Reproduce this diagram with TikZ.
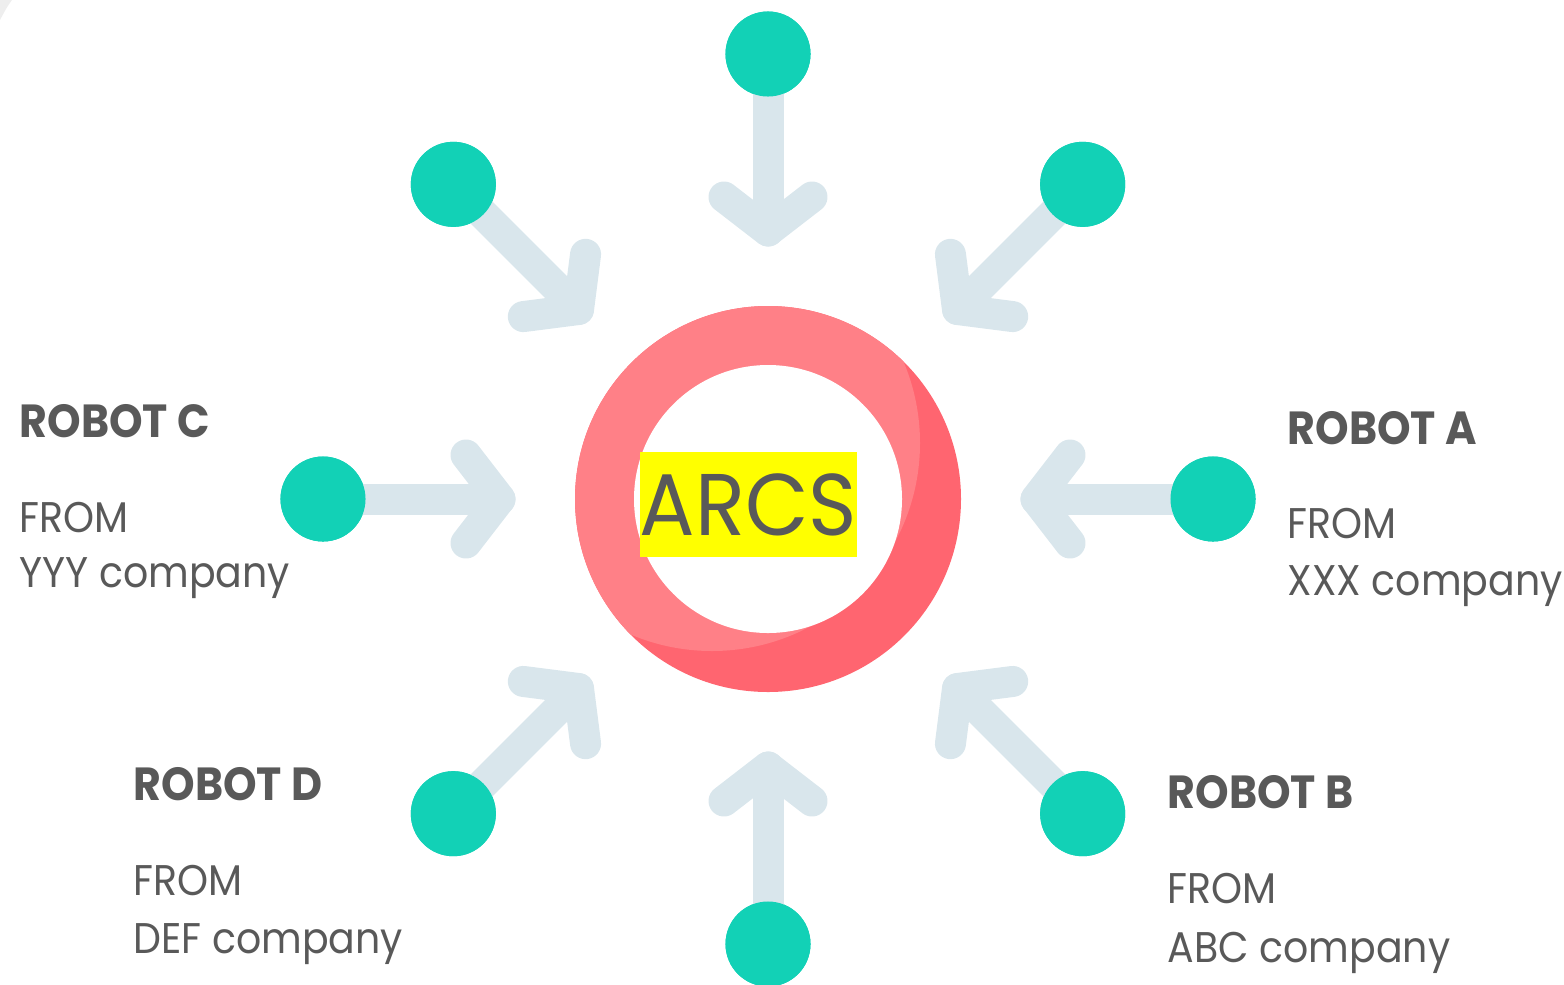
\documentclass[tikz,border=0pt]{standalone}
\usepackage{fontspec}
\setmainfont{Poppins}[FakeStretch=0.92]
\newfontfamily\centrefont{Poppins}[FakeStretch=0.94]
\definecolor{dotgreen}{HTML}{12D1B6}
\definecolor{linkgray}{HTML}{D9E6EC}
\definecolor{ringlight}{HTML}{FF8087}
\definecolor{ringdark}{HTML}{FF6570}
\definecolor{textgray}{HTML}{595959}
\definecolor{cornergray}{HTML}{EEEEEE}
\definecolor{marker}{HTML}{FFFF00}
\begin{document}
\begin{tikzpicture}[x=0.01cm,y=-0.01cm,
  link/.style={draw=linkgray,line width=0.31cm,line cap=round,line join=round},
  dot/.style={circle,fill=dotgreen,minimum size=0.85cm,inner sep=0pt},
  title/.style={anchor=base west,inner sep=0pt,text=textgray,font=\fontsize{13.2pt}{15pt}\selectfont\bfseries},
  body/.style={anchor=base west,inner sep=0pt,text=textgray,font=\fontsize{12.2pt}{14pt}\selectfont}]
\useasboundingbox (0,0) rectangle (1564,984);

% faint corner shape
\fill[cornergray] (0,0) -- (12,0) .. controls (7,7) .. (0,20) -- cycle;

% centre
\coordinate (c) at (768,499);

% arrows pointing inwards, one every 45 degrees
\foreach \i/\a in {0/0,1/45,2/90,3/135,4/180,5/225,6/270,7/315}{
  \begin{scope}[shift={(c)},rotate=\a]
    \coordinate (tip\i) at (268,0);
    \coordinate (armL\i) at (302,44);
    \coordinate (armR\i) at (302,-44);
    \node[dot] (d\i) at (445,0) {};
  \end{scope}
  \draw[link] (d\i.center) -- (tip\i);
  \draw[link] (armL\i) -- (tip\i) -- (armR\i);
  \node[dot] at (d\i) {};
}

% ring with shaded lower right
\fill[ringdark] (c) circle[radius=193];
\begin{scope}
  \clip (c) circle[radius=193];
  \fill[ringlight] (712,443) circle[radius=208];
\end{scope}
\fill[white] (c) circle[radius=134];

% central label
\node[fill=marker,text=textgray,inner sep=0pt,minimum width=2.15cm,minimum height=1.05cm,
  font=\centrefont\fontsize{24.9pt}{28pt}\selectfont] (arcs) at (748.5,504.5) {ARCS};

% robot labels
\node[title] (ta) at (1287,444) {ROBOT A};
\node[body]  (fa) at (1287,538) {FROM};
\node[body]  (ca) at (1287,595) {XXX company};

\node[title] (tb) at (1167,808) {ROBOT B};
\node[body]  (fb) at (1167,903) {FROM};
\node[body]  (cb) at (1167,962) {ABC company};

\node[title] (tc) at (19,437) {ROBOT C};
\node[body]  (fc) at (19,532) {FROM};
\node[body]  (cc) at (19,587) {YYY company};

\node[title] (td) at (133,800) {ROBOT D};
\node[body]  (fd) at (133,895) {FROM};
\node[body]  (cd) at (133,953) {DEF company};
\end{tikzpicture}
\end{document}
